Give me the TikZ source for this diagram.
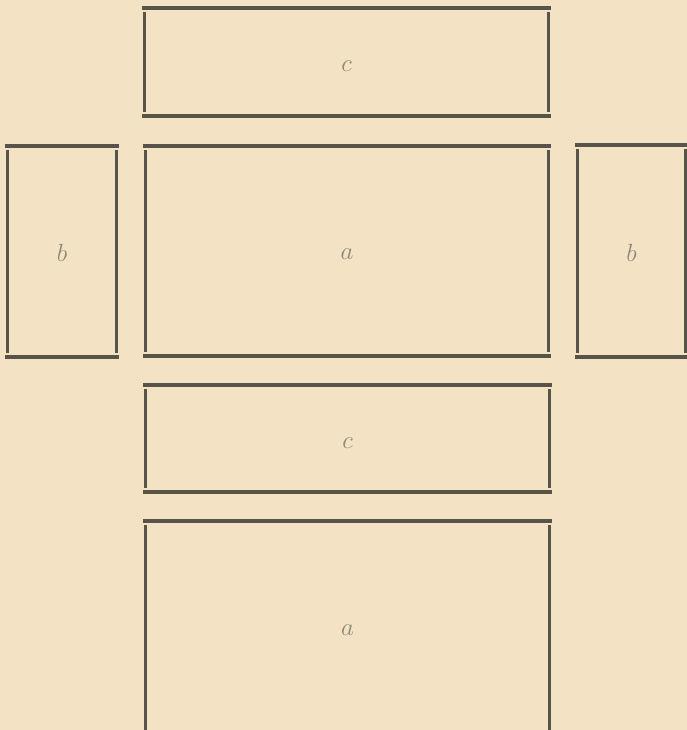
\documentclass[tikz,border=0pt]{standalone}
\usetikzlibrary{positioning}
\definecolor{paper}{HTML}{F3E2C4}
\definecolor{ink}{HTML}{58544A}
\definecolor{pencil}{HTML}{8E8877}
\begin{document}
\begin{tikzpicture}[
    x=1pt, y=-1pt,
    font=\fontsize{24}{29}\selectfont,
    slab/.style={inner sep=0pt, outer sep=0pt, text=pencil},
    rule/.style={ink, line width=4pt},
    side/.style={ink, line width=3.2pt}
]
    \fill[paper] (0,0) rectangle (687,730);
    \useasboundingbox (0,0) rectangle (687,730);
    \clip (0,0) rectangle (687,730);

    \node[slab, minimum width=409pt, minimum height=108pt] (c1) at (346.5,62) {\raisebox{-10pt}[0pt][0pt]{$c$}};
    \node[slab, minimum width=408pt, minimum height=210pt] (a1) at (347,251) {\raisebox{-8pt}[0pt][0pt]{$a$}};
    \node[slab, minimum width=114pt, minimum height=211pt] (b1) at (62,251.5) {\raisebox{-10pt}[0pt][0pt]{$b$}};
    \node[slab, minimum width=113pt, minimum height=211pt] (b2) at (631.5,251) {\raisebox{-10pt}[0pt][0pt]{$b$}};
    \node[slab, minimum width=409pt, minimum height=107pt] (c2) at (347.5,438.5) {\raisebox{-10pt}[0pt][0pt]{$c$}};
    \node[slab, minimum width=409pt, minimum height=214pt] (a2) at (347.5,628) {\raisebox{-7pt}[0pt][0pt]{$a$}};

    % boards: heavy rails top and bottom, thinner posts set in from the corners
    \foreach \n in {c1,a1,b1,b2,c2,a2} {
        \draw[rule] (\n.north west) -- (\n.north east);
        \draw[rule] (\n.south west) -- (\n.south east);
        \draw[side] ([shift={(2.5,4)}]\n.north west) -- ([shift={(2.5,-4)}]\n.south west);
        \draw[side] ([shift={(-2.5,4)}]\n.north east) -- ([shift={(-2.5,-4)}]\n.south east);
    }
\end{tikzpicture}
\end{document}
